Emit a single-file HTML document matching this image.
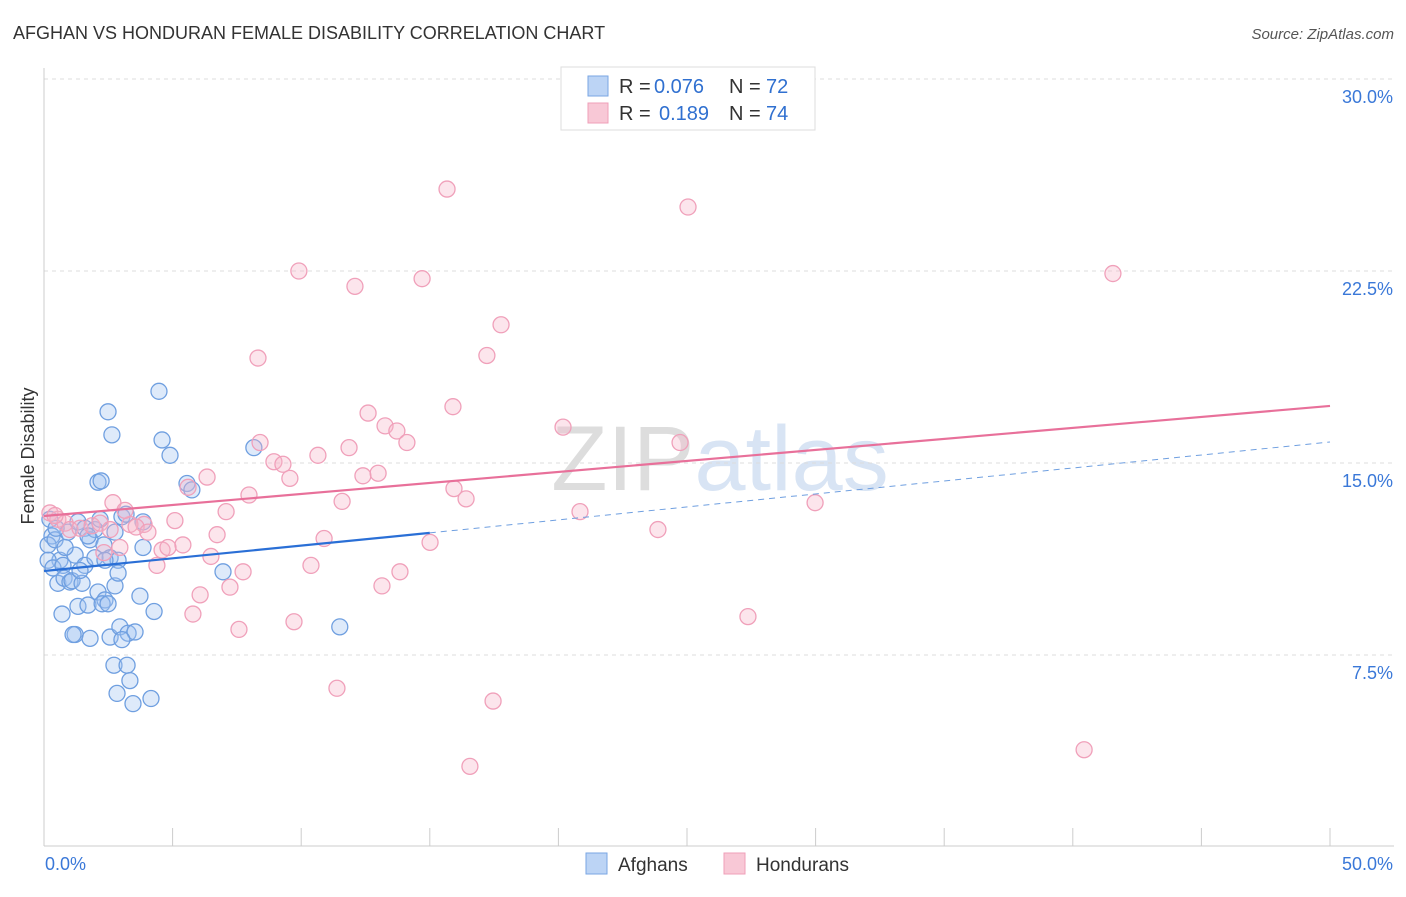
<!DOCTYPE html>
<html><head><meta charset="utf-8"><style>
body{margin:0;background:#fff;font-family:"Liberation Sans",sans-serif;}
svg text{font-family:"Liberation Sans",sans-serif;}
</style></head><body>
<svg id="chart" width="1406" height="892">
<text x="13" y="39" font-size="18" fill="#333">AFGHAN VS HONDURAN FEMALE DISABILITY CORRELATION CHART</text>
<text x="1394" y="39" font-size="15" fill="#555" font-style="italic" text-anchor="end">Source: ZipAtlas.com</text>
<text x="720" y="490" font-size="92" fill="#e6e6e6" text-anchor="middle" font-family="Liberation Serif"><tspan fill="#ddd">ZIP</tspan><tspan fill="#d8e4f4">atlas</tspan></text>
<g id="grid"></g><g id="axes"></g><g id="pts"></g><g id="lines"></g>
<text x="34" y="456" font-size="18" fill="#333" text-anchor="middle" transform="rotate(-90 34 456)">Female Disability</text>
<g>
<rect x="561" y="67" width="254" height="63" fill="#fff" stroke="#ddd"/>
<rect x="588" y="76" width="20" height="20" fill="#bcd4f5" stroke="#7aa6e3"/>
<rect x="588" y="103" width="20" height="20" fill="#f8c8d6" stroke="#ef9fb8"/>
<text x="619" y="93" font-size="20" fill="#333">R =</text>
<text x="654" y="93" font-size="20" fill="#3070d0">0.076</text>
<text x="729" y="93" font-size="20" fill="#333">N =</text>
<text x="766" y="93" font-size="20" fill="#3070d0">72</text>
<text x="619" y="120" font-size="20" fill="#333">R =</text>
<text x="659" y="120" font-size="20" fill="#3070d0">0.189</text>
<text x="729" y="120" font-size="20" fill="#333">N =</text>
<text x="766" y="120" font-size="20" fill="#3070d0">74</text>
</g>
<g>
<rect x="586" y="853" width="21" height="21" fill="#bcd4f5" stroke="#7aa6e3"/>
<text x="618" y="871" font-size="19" fill="#333">Afghans</text>
<rect x="724" y="853" width="21" height="21" fill="#f8c8d6" stroke="#ef9fb8"/>
<text x="756" y="871" font-size="19" fill="#333">Hondurans</text>
</g>
</svg>
<script>
const yTicks=[7.5,15,22.5,30];
const yTickLabels=["7.5%","15.0%","22.5%","30.0%"];
const xTickLabels=["0.0%","50.0%"];
const afghanX=[0.31,0.16,0.43,0.62,0.16,0.35,0.74,0.54,0.78,1.01,1.21,0.93,1.32,1.59,1.79,1.98,2.18,2.33,2.57,2.88,1.59,1.09,1.48,2.1,2.37,2.76,0.7,1.32,1.71,2.26,2.49,1.21,1.13,1.79,2.57,2.95,3.27,3.54,3.03,3.73,4.28,2.72,3.23,2.84,3.34,3.46,4.16,2.49,2.64,4.47,4.59,4.9,2.1,2.22,5.56,5.75,3.03,3.19,3.85,3.85,6.96,8.16,11.5,2.76,1.98,0.23,0.47,0.82,1.71,2.88,2.37,1.4];
const afghanY=[12.15,11.8,12.0,11.2,11.2,10.9,11.0,10.3,10.5,10.35,11.4,12.3,12.7,12.45,12.0,12.4,12.8,11.8,11.3,11.2,11.0,10.4,10.3,9.96,9.65,10.2,9.1,9.4,9.45,9.5,9.5,8.3,8.3,8.15,8.2,8.6,8.35,8.4,8.1,9.8,9.2,7.1,7.1,6.0,6.5,5.6,5.8,17.0,16.1,17.8,15.9,15.3,14.25,14.3,14.2,13.95,12.9,13.0,12.7,11.7,10.75,15.6,8.6,12.3,11.3,12.8,12.45,11.7,12.15,10.7,11.2,10.8];
const hondX=[15.67,25.04,9.91,14.7,41.56,12.09,17.77,8.32,17.22,15.9,12.6,13.26,13.72,20.18,14.11,11.86,8.4,24.73,10.65,8.94,9.29,6.34,9.56,12.4,12.99,5.6,15.94,7.97,16.41,11.59,2.68,29.98,7.08,20.84,5.09,3.89,23.87,0.23,0.54,0.82,1.01,1.4,1.87,2.18,3.34,3.58,4.04,6.73,10.89,15.01,5.4,4.59,4.82,2.95,2.33,6.49,4.39,7.74,10.38,13.84,7.23,13.14,6.07,5.79,9.72,7.58,27.37,11.39,17.46,40.44,16.56,0.43,2.57,3.15];
const hondY=[25.7,25.0,22.5,22.2,22.4,21.9,20.4,19.1,19.2,17.2,16.95,16.45,16.25,16.4,15.8,15.6,15.8,15.8,15.3,15.05,14.95,14.45,14.4,14.5,14.6,14.05,14.0,13.75,13.6,13.5,13.45,13.45,13.1,13.1,12.75,12.6,12.4,13.05,12.8,12.65,12.4,12.45,12.55,12.65,12.6,12.5,12.3,12.2,12.05,11.9,11.8,11.6,11.7,11.7,11.5,11.35,11.0,10.75,11.0,10.75,10.15,10.2,9.85,9.1,8.8,8.5,9.0,6.2,5.7,3.8,3.15,12.95,12.4,13.15];
const afghanTrend=[10.78,12.27,15.82]; // at x=0,15,50
const hondTrend=[12.93,17.23]; // at x=0,50
const NS='http://www.w3.org/2000/svg';
const X=v=>44+v*25.72, Y=v=>847-v*25.6;
function mk(t,a,p){const e=document.createElementNS(NS,t);for(const k in a)e.setAttribute(k,a[k]);p.appendChild(e);return e;}
const grid=document.getElementById('grid'),axes=document.getElementById('axes'),pts=document.getElementById('pts'),lines=document.getElementById('lines');
yTicks.forEach((t,i)=>{
 const l=mk('line',{x1:44,x2:1394,y1:Y(t),y2:Y(t),stroke:'#ddd','stroke-dasharray':'4,4'},grid);
 
 
 const tx=mk('text',{x:1393,y:Y(t)+24,'font-size':18,fill:'#3a78d8','text-anchor':'end'},axes);
 tx.textContent=yTickLabels[i];
 
 
});
const ax=mk('line',{x1:44,x2:1394,y1:846,y2:846,stroke:'#ccc'},axes);


const ay=mk('line',{x1:44,x2:44,y1:68,y2:846,stroke:'#ccc'},axes);


for(let v=5;v<=50;v+=5){const t=mk('line',{x1:X(v),x2:X(v),y1:828,y2:846,stroke:'#ccc'},axes);
 
 }
[[0,'start',45],[50,'end',1393]].forEach((d,i)=>{const t=mk('text',{x:d[2],y:870,'font-size':18,fill:'#3a78d8','text-anchor':d[1]},axes);t.textContent=xTickLabels[i];
 
 });
afghanX.forEach((x,i)=>{const c=mk('circle',{cx:X(x),cy:Y(afghanY[i]),r:8,fill:'rgba(160,196,240,0.35)',stroke:'#6f9fe0','stroke-width':1.3},pts);
 
 });
hondX.forEach((x,i)=>{const c=mk('circle',{cx:X(x),cy:Y(hondY[i]),r:8,fill:'rgba(246,180,200,0.35)',stroke:'#f0a0ba','stroke-width':1.3},pts);
 
 });
let l1=mk('line',{x1:X(0),y1:Y(afghanTrend[0]),x2:X(15),y2:Y(afghanTrend[1]),stroke:'#2a6fd6','stroke-width':2.2},lines);


let l2=mk('line',{x1:X(15),y1:Y(afghanTrend[1]),x2:X(50),y2:Y(afghanTrend[2]),stroke:'#6f9fe0','stroke-width':1,'stroke-dasharray':'6,5'},lines);


let l3=mk('line',{x1:X(0),y1:Y(hondTrend[0]),x2:X(50),y2:Y(hondTrend[1]),stroke:'#e8709a','stroke-width':2.2},lines);


</script>
</body></html>
